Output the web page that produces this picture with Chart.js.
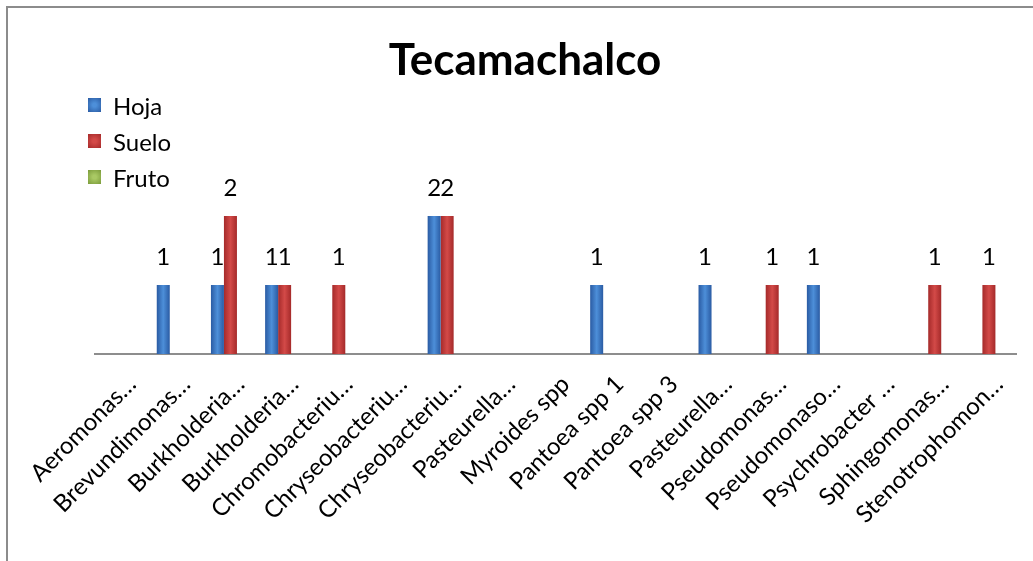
<!DOCTYPE html>
<html>
<head>
<meta charset="utf-8">
<script src="https://cdn.jsdelivr.net/npm/chart.js@4"></script>
<style>
  html, body { margin: 0; padding: 0; background: #fff; overflow: hidden; }
  #wrap { position: relative; width: 1033px; height: 561px; font-family: Lato, sans-serif; }
  #frame { position: absolute; left: 6px; top: 6px; width: 1100px; height: 620px;
           border: 2px solid #8c8c8c; box-sizing: border-box; }
  #chart { position: absolute; left: 0; top: 0; }
  #title { position: absolute; left: 325px; width: 400px; top: 33px; text-align: center;
           font-weight: bold; font-size: 44px; line-height: 50px; color: #000; }
  #legend { position: absolute; left: 88px; top: 87px; font-size: 24px; color: #000; }
  .item { display: flex; align-items: center; height: 36px; }
  .swatch { width: 13px; height: 14px; margin-right: 12px; }
</style>
</head>
<body>
<div id="wrap">
  <div id="frame"></div>
  <canvas id="chart" width="1033" height="561"></canvas>
  <div id="title">Tecamachalco</div>
  <div id="legend"></div>
</div>
<script>
// ── Data ──────────────────────────────────────────────────────────────────────
const labels = [
  "Aeromonas…", "Brevundimonas…", "Burkholderia…", "Burkholderia…",
  "Chromobacteriu…", "Chryseobacteriu…", "Chryseobacteriu…", "Pasteurella…",
  "Myroides spp", "Pantoea spp 1", "Pantoea spp 3", "Pasteurella…",
  "Pseudomonas…", "Pseudomonaso…", "Psychrobacter …", "Sphingomonas…",
  "Stenotrophomon…",
];
const hoja  = [null, 1, 1, 1, null, null, 2, null, null, 1, null, 1, null, 1, null, null, null];
const suelo = [null, null, 2, 1, 1, null, 2, null, null, null, null, null, 1, null, null, 1, 1];
const fruto = [null, null, null, null, null, null, null, null, null, null, null, null, null, null, null, null, null];
const seriesNames = ["Hoja", "Suelo", "Fruto"];

const SERIES_COLORS = [
  { edge: "#2a5ba3", light: "#4d8fd9" },
  { edge: "#a52a2a", light: "#d34a48" },
  { edge: "#7a9a3a", light: "#a9c964" },
];
const CAT_PCT = 0.72;

// cylinder-ish horizontal gradient, like the Excel 2007 bars
function barFill(si) {
  const { edge, light } = SERIES_COLORS[si];
  return (c) => {
    const x = c.chart.scales.x;
    if (c.type !== "data" || !x || !x.width) return light;
    const bw = (x.width / labels.length) * CAT_PCT / 3;
    const cx = x.getPixelForValue(c.dataIndex) + (c.datasetIndex - 1) * bw;
    const g = c.chart.ctx.createLinearGradient(cx - bw / 2, 0, cx + bw / 2, 0);
    g.addColorStop(0, edge);
    g.addColorStop(0.5, light);
    g.addColorStop(1, edge);
    return g;
  };
}

// ── Value labels above bars ───────────────────────────────────────────────────
const valueLabels = {
  id: "valueLabels",
  afterDatasetsDraw(chart) {
    const ctx = chart.ctx;
    ctx.save();
    ctx.font = "24px Lato";
    ctx.fillStyle = "#000";
    ctx.textAlign = "center";
    ctx.textBaseline = "alphabetic";
    chart.data.datasets.forEach((ds, i) => {
      chart.getDatasetMeta(i).data.forEach((bar, j) => {
        const v = ds.data[j];
        if (v == null) return;
        ctx.fillText(String(v), bar.x, bar.y - 20);
      });
    });
    ctx.restore();
  },
};

// ── Chart ─────────────────────────────────────────────────────────────────────
const chart = new Chart(document.getElementById("chart"), {
  type: "bar",
  data: {
    labels,
    datasets: [hoja, suelo, fruto].map((data, i) => ({
      label: seriesNames[i],
      data,
      backgroundColor: barFill(i),
      borderWidth: 0,
      categoryPercentage: CAT_PCT,
      barPercentage: 1,
    })),
  },
  options: {
    responsive: false,
    animation: false,
    layout: { padding: { left: 95, right: 17, top: 181.5, bottom: 0 } },
    plugins: { legend: { display: false }, title: { display: false }, tooltip: { enabled: false } },
    scales: {
      x: {
        grid: { display: false },
        border: { display: true, color: "#8d8d8d", width: 2 },
        ticks: {
          color: "#000",
          font: { family: "Lato", size: 24 },
          autoSkip: false,
          minRotation: 45,
          maxRotation: 45,
          padding: 8,
          labelOffset: 10,
        },
        afterFit(scale) { scale.height = 207; },
      },
      y: { display: false, min: 0, max: 2.5 },
    },
  },
  plugins: [valueLabels],
});

// ── Legend (HTML) ─────────────────────────────────────────────────────────────
document.getElementById("legend").innerHTML = seriesNames.map((name, i) => {
  const { edge, light } = SERIES_COLORS[i];
  return `<div class="item"><span class="swatch" style="background:radial-gradient(circle, ${light} 20%, ${edge} 100%)"></span>${name}</div>`;
}).join("");
</script>
</body>
</html>
